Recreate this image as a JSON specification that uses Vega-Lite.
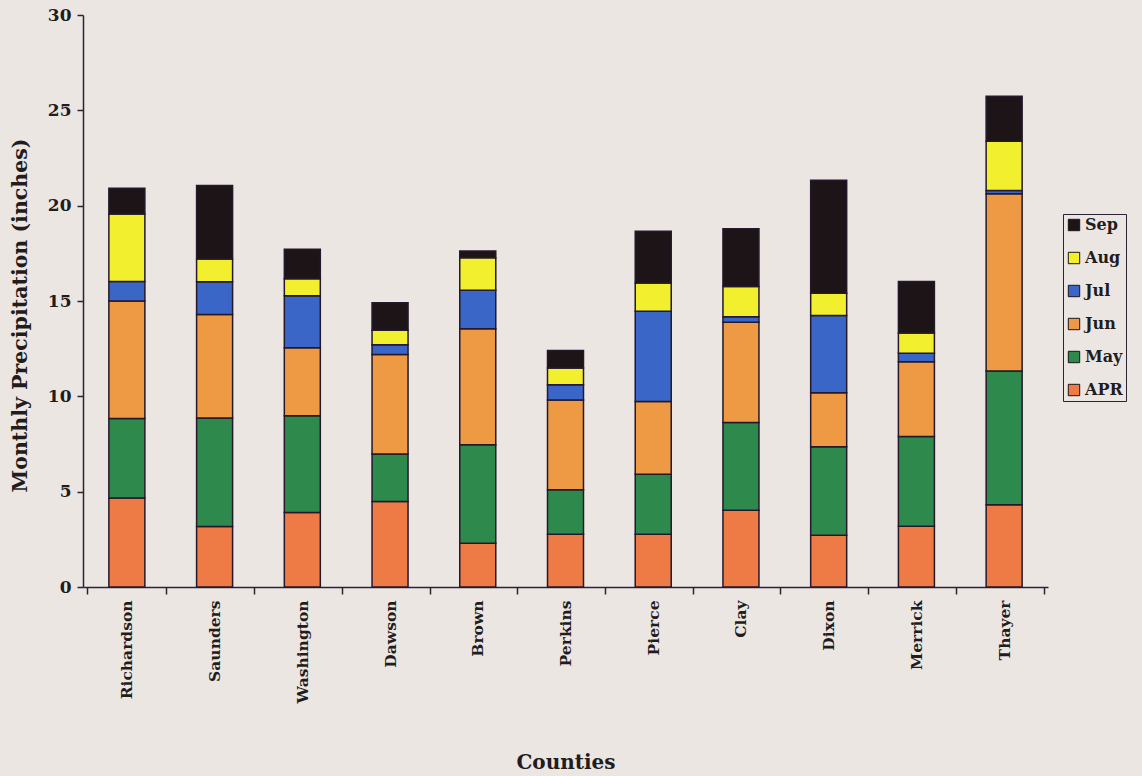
{
  "$schema": "https://vega.github.io/schema/vega-lite/v6.json",
  "width": 965,
  "height": 572,
  "autosize": "none",
  "padding": {"left": 83, "top": 15, "right": 94, "bottom": 189},
  "background": "#ECE6E3",
  "config": {
    "view": {"stroke": null},
    "font": "DejaVu Serif",
    "axis": {
      "grid": false,
      "domainColor": "#2a2338",
      "domainWidth": 1.5,
      "tickColor": "#2a2338",
      "tickWidth": 1.5,
      "labelColor": "#221c1c",
      "titleColor": "#221c1c",
      "labelFont": "DejaVu Serif",
      "titleFont": "DejaVu Serif",
      "labelFontWeight": "bold",
      "titleFontWeight": "bold"
    }
  },
  "data": {
    "values": [
      {"county": "Richardson", "month": "APR", "idx": 1, "inches": 4.67},
      {"county": "Richardson", "month": "May", "idx": 2, "inches": 4.17},
      {"county": "Richardson", "month": "Jun", "idx": 3, "inches": 6.16},
      {"county": "Richardson", "month": "Jul", "idx": 4, "inches": 1.02},
      {"county": "Richardson", "month": "Aug", "idx": 5, "inches": 3.54},
      {"county": "Richardson", "month": "Sep", "idx": 6, "inches": 1.35},
      {"county": "Saunders", "month": "APR", "idx": 1, "inches": 3.17},
      {"county": "Saunders", "month": "May", "idx": 2, "inches": 5.69},
      {"county": "Saunders", "month": "Jun", "idx": 3, "inches": 5.43},
      {"county": "Saunders", "month": "Jul", "idx": 4, "inches": 1.72},
      {"county": "Saunders", "month": "Aug", "idx": 5, "inches": 1.19},
      {"county": "Saunders", "month": "Sep", "idx": 6, "inches": 3.86},
      {"county": "Washington", "month": "APR", "idx": 1, "inches": 3.91},
      {"county": "Washington", "month": "May", "idx": 2, "inches": 5.07},
      {"county": "Washington", "month": "Jun", "idx": 3, "inches": 3.57},
      {"county": "Washington", "month": "Jul", "idx": 4, "inches": 2.72},
      {"county": "Washington", "month": "Aug", "idx": 5, "inches": 0.90},
      {"county": "Washington", "month": "Sep", "idx": 6, "inches": 1.54},
      {"county": "Dawson", "month": "APR", "idx": 1, "inches": 4.49},
      {"county": "Dawson", "month": "May", "idx": 2, "inches": 2.49},
      {"county": "Dawson", "month": "Jun", "idx": 3, "inches": 5.22},
      {"county": "Dawson", "month": "Jul", "idx": 4, "inches": 0.51},
      {"county": "Dawson", "month": "Aug", "idx": 5, "inches": 0.75},
      {"county": "Dawson", "month": "Sep", "idx": 6, "inches": 1.45},
      {"county": "Brown", "month": "APR", "idx": 1, "inches": 2.29},
      {"county": "Brown", "month": "May", "idx": 2, "inches": 5.17},
      {"county": "Brown", "month": "Jun", "idx": 3, "inches": 6.08},
      {"county": "Brown", "month": "Jul", "idx": 4, "inches": 2.03},
      {"county": "Brown", "month": "Aug", "idx": 5, "inches": 1.70},
      {"county": "Brown", "month": "Sep", "idx": 6, "inches": 0.35},
      {"county": "Perkins", "month": "APR", "idx": 1, "inches": 2.77},
      {"county": "Perkins", "month": "May", "idx": 2, "inches": 2.33},
      {"county": "Perkins", "month": "Jun", "idx": 3, "inches": 4.71},
      {"county": "Perkins", "month": "Jul", "idx": 4, "inches": 0.80},
      {"county": "Perkins", "month": "Aug", "idx": 5, "inches": 0.88},
      {"county": "Perkins", "month": "Sep", "idx": 6, "inches": 0.91},
      {"county": "Pierce", "month": "APR", "idx": 1, "inches": 2.77},
      {"county": "Pierce", "month": "May", "idx": 2, "inches": 3.14},
      {"county": "Pierce", "month": "Jun", "idx": 3, "inches": 3.82},
      {"county": "Pierce", "month": "Jul", "idx": 4, "inches": 4.73},
      {"county": "Pierce", "month": "Aug", "idx": 5, "inches": 1.49},
      {"county": "Pierce", "month": "Sep", "idx": 6, "inches": 2.71},
      {"county": "Clay", "month": "APR", "idx": 1, "inches": 4.03},
      {"county": "Clay", "month": "May", "idx": 2, "inches": 4.60},
      {"county": "Clay", "month": "Jun", "idx": 3, "inches": 5.26},
      {"county": "Clay", "month": "Jul", "idx": 4, "inches": 0.29},
      {"county": "Clay", "month": "Aug", "idx": 5, "inches": 1.58},
      {"county": "Clay", "month": "Sep", "idx": 6, "inches": 3.03},
      {"county": "Dixon", "month": "APR", "idx": 1, "inches": 2.71},
      {"county": "Dixon", "month": "May", "idx": 2, "inches": 4.65},
      {"county": "Dixon", "month": "Jun", "idx": 3, "inches": 2.83},
      {"county": "Dixon", "month": "Jul", "idx": 4, "inches": 4.05},
      {"county": "Dixon", "month": "Aug", "idx": 5, "inches": 1.17},
      {"county": "Dixon", "month": "Sep", "idx": 6, "inches": 5.92},
      {"county": "Merrick", "month": "APR", "idx": 1, "inches": 3.19},
      {"county": "Merrick", "month": "May", "idx": 2, "inches": 4.70},
      {"county": "Merrick", "month": "Jun", "idx": 3, "inches": 3.92},
      {"county": "Merrick", "month": "Jul", "idx": 4, "inches": 0.45},
      {"county": "Merrick", "month": "Aug", "idx": 5, "inches": 1.06},
      {"county": "Merrick", "month": "Sep", "idx": 6, "inches": 2.70},
      {"county": "Thayer", "month": "APR", "idx": 1, "inches": 4.32},
      {"county": "Thayer", "month": "May", "idx": 2, "inches": 7.01},
      {"county": "Thayer", "month": "Jun", "idx": 3, "inches": 9.30},
      {"county": "Thayer", "month": "Jul", "idx": 4, "inches": 0.16},
      {"county": "Thayer", "month": "Aug", "idx": 5, "inches": 2.59},
      {"county": "Thayer", "month": "Sep", "idx": 6, "inches": 2.36}
    ]
  },
  "mark": {"type": "bar", "size": 36, "stroke": "#24182a", "strokeWidth": 1.5},
  "encoding": {
    "x": {
      "field": "county",
      "type": "nominal",
      "sort": null,
      "axis": {
        "title": "Counties",
        "titleFontSize": 20,
        "titleY": 175,
        "titleBaseline": "middle",
        "labelAngle": 270,
        "labelFontSize": 15.5,
        "labelPadding": 6,
        "tickBand": "extent",
        "tickSize": 7
      }
    },
    "y": {
      "field": "inches",
      "type": "quantitative",
      "aggregate": "sum",
      "stack": "zero",
      "scale": {"domain": [0, 30], "nice": false},
      "axis": {
        "title": "Monthly Precipitation (inches)",
        "titleFontSize": 20.5,
        "titleAngle": 270,
        "titleX": -63,
        "titleY": 300,
        "titleBaseline": "middle",
        "titleAlign": "center",
        "values": [0, 5, 10, 15, 20, 25, 30],
        "labelFontSize": 17,
        "labelPadding": 6,
        "tickSize": 6
      }
    },
    "order": {"field": "idx", "type": "quantitative", "sort": "ascending"},
    "color": {
      "field": "month",
      "type": "nominal",
      "scale": {
        "domain": ["Sep", "Aug", "Jul", "Jun", "May", "APR"],
        "range": ["#1c1416", "#f2f02e", "#3a66c8", "#ee9a45", "#2e8a4c", "#ee7a45"]
      },
      "legend": {
        "title": null,
        "orient": "none",
        "legendX": 980,
        "legendY": 199,
        "symbolType": "square",
        "symbolSize": 130,
        "symbolStrokeColor": "#1c1416",
        "symbolStrokeWidth": 1,
        "symbolOpacity": 1,
        "labelFont": "DejaVu Serif",
        "labelFontWeight": "bold",
        "labelFontSize": 16,
        "labelOffset": 3,
        "labelColor": "#221c1c",
        "rowPadding": 17,
        "strokeColor": "#2a2338",
        "padding": 3
      }
    }
  }
}
